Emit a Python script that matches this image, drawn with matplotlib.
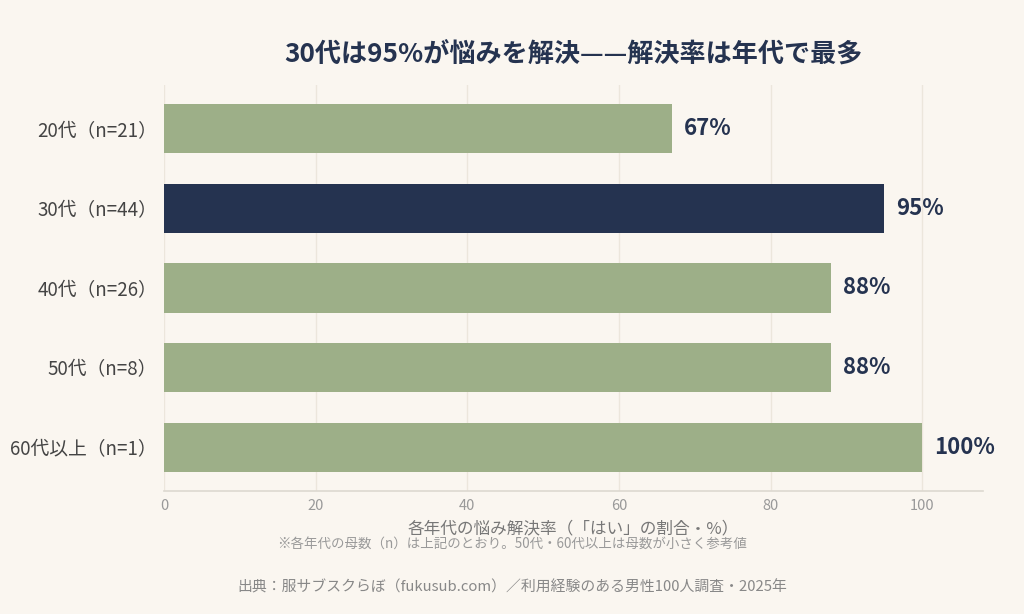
import matplotlib
matplotlib.use("Agg")
import matplotlib.pyplot as plt

plt.rcParams['font.family'] = ['Noto Sans CJK JP', 'DejaVu Sans']

categories = ["20代（n=21）", "30代（n=44）", "40代（n=26）", "50代（n=8）", "60代以上（n=1）"]
values = [67, 95, 88, 88, 100]
labels = ["67%", "95%", "88%", "88%", "100%"]
highlight = "30代（n=44）"

title = "30代は95%が悩みを解決——解決率は年代で最多"
xlabel = "各年代の悩み解決率（「はい」の割合・%）"
note = "※各年代の母数（n）は上記のとおり。50代・60代以上は母数が小さく参考値"
source = "出典：服サブスクらぼ（fukusub.com）／利用経験のある男性100人調査・2025年"

bg = "#FAF6F0"
green = "#9DAF88"
navy = "#253350"

fig = plt.figure(figsize=(10.24, 6.14), dpi=100, facecolor=bg)
ax = fig.add_axes([164/1024, 1-491/614, (983-164)/1024, (491-85)/614])
ax.set_facecolor(bg)

colors = [navy if c == highlight else green for c in categories]
y = list(range(len(categories)))
ax.barh(y, values, height=0.62, color=colors, zorder=3)
for yi, v, lab in zip(y, values, labels):
    ax.text(v + 1.6, yi, lab, va="center", ha="left", fontsize=16,
            fontweight="bold", color=navy, zorder=4)

ax.set_yticks(y)
ax.set_yticklabels(categories, fontsize=13.5, color="#444444")
ax.set_ylim(4.55, -0.55)
ax.set_xlim(0, 108)
ax.set_xticks([0, 20, 40, 60, 80, 100])
ax.tick_params(axis="x", labelsize=10.5, colors="#999999", length=0, pad=6)
ax.tick_params(axis="y", length=0, pad=5)
ax.grid(axis="x", color="#ECE6DC", linewidth=1, zorder=0)
for s in ["top", "right", "left"]:
    ax.spines[s].set_visible(False)
ax.spines["bottom"].set_color("#DDD8D0")
ax.spines["bottom"].set_linewidth(1.2)

ax.set_title(title, fontsize=18.8, fontweight="bold", color=navy, pad=16)
ax.set_xlabel(xlabel, fontsize=12, color="#777777", labelpad=5)

fig.text(512/1024, 1-544/614, note, ha="center", va="center", fontsize=9.7, color="#999999")
fig.text(512/1024, 1-587/614, source, ha="center", va="center", fontsize=10.7, color="#888888")

fig.savefig("out.png", dpi=100, facecolor=bg)
